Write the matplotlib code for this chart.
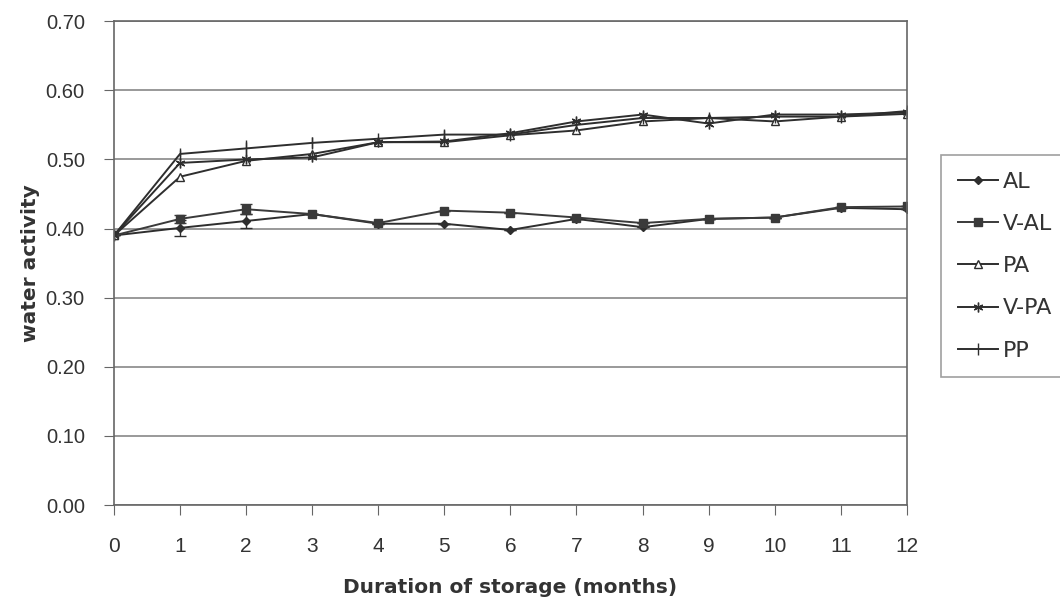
import matplotlib
matplotlib.use("Agg")
import matplotlib.pyplot as plt
from matplotlib.lines import Line2D
import numpy as np

months = list(range(13))
series_names = ["AL", "V-AL", "PA", "V-PA", "PP"]
al   = [0.39, 0.401, 0.411, 0.421, 0.407, 0.407, 0.398, 0.414, 0.402, 0.414, 0.416, 0.430, 0.428]
v_al = [0.39, 0.414, 0.428, 0.421, 0.408, 0.426, 0.423, 0.416, 0.408, 0.414, 0.416, 0.431, 0.432]
pa   = [0.39, 0.475, 0.498, 0.508, 0.525, 0.525, 0.535, 0.542, 0.555, 0.560, 0.555, 0.562, 0.566]
v_pa = [0.39, 0.495, 0.500, 0.503, 0.525, 0.526, 0.538, 0.555, 0.565, 0.552, 0.565, 0.565, 0.568]
pp   = [0.39, 0.508, 0.516, 0.524, 0.530, 0.536, 0.536, 0.550, 0.560, 0.560, 0.562, 0.562, 0.570]
al_err = [0.0, 0.012, 0.010, 0.0, 0.0, 0.0, 0.0, 0.0, 0.0, 0.0, 0.0, 0.0, 0.0]
v_al_err = [0.0, 0.006, 0.007, 0.0, 0.0, 0.0, 0.0, 0.0, 0.0, 0.0, 0.0, 0.0, 0.0]
pp_err = [0.0, 0.005, 0.012, 0.008, 0.0, 0.006, 0.0, 0.0, 0.0, 0.006, 0.0, 0.0, 0.0]

fig = plt.figure(figsize=(10.6, 6.07), dpi=100)
ax = fig.add_axes([0.1075, 0.168, 0.748, 0.797])

lc = "#2e2e2e"
styles = [
    dict(color=lc, marker="D", ms=4.5),
    dict(color="#3a3a3a", marker="s", ms=5.5),
    dict(color=lc, marker="^", ms=6, mfc="white"),
    dict(color=lc, marker=(6, 2, 0), ms=7),
    dict(color=lc, marker="|", ms=9),
]
data = [al, v_al, pa, v_pa, pp]
errs = [al_err, v_al_err, None, None, pp_err]
for name, y, e, st in zip(series_names, data, errs, styles):
    ax.errorbar(months, y, yerr=e, lw=1.4, capsize=4 if e is not None and name != "PP" else 0,
                elinewidth=1, ecolor=st["color"], **st)

ax.set_xlim(0, 12)
ax.set_ylim(0, 0.70)
yt = np.arange(0, 0.71, 0.1)
ax.set_yticks(yt)
ax.set_yticklabels([f"{v:.2f}" for v in yt])
ax.set_xticks(months)
ax.yaxis.grid(True, color="#888888", lw=1.2)
ax.set_axisbelow(True)
for s in ax.spines.values():
    s.set_color("#666666")
    s.set_linewidth(1.2)
ax.tick_params(axis="both", colors="#666666", labelcolor="#333333", length=7, direction="out")
ax.tick_params(axis="x", pad=16, labelsize=15)
ax.tick_params(axis="y", pad=14, labelsize=14.5)
for lab in ax.get_xticklabels() + ax.get_yticklabels():
    lab.set_family("Liberation Sans")

ax.set_ylabel("water activity", fontsize=14.5, fontweight="bold", color="#333333", labelpad=4)
ax.set_xlabel("Duration of storage (months)", fontsize=14.5, fontweight="bold", color="#333333", labelpad=16)

handles = [Line2D([], [], lw=1.4, **st) for st in styles]
leg = fig.legend(handles, series_names, loc="upper left", bbox_to_anchor=(0.8877, 0.7446), frameon=True,
                 fancybox=False, edgecolor="#888888", fontsize=16, handlelength=1.8, handletextpad=0.22,
                 labelspacing=1.0, borderpad=0.75, borderaxespad=0)
leg.get_frame().set_linewidth(1.2)
for t in leg.get_texts():
    t.set_color("#333333")

fig.savefig("out.png", dpi=100, facecolor="white")
